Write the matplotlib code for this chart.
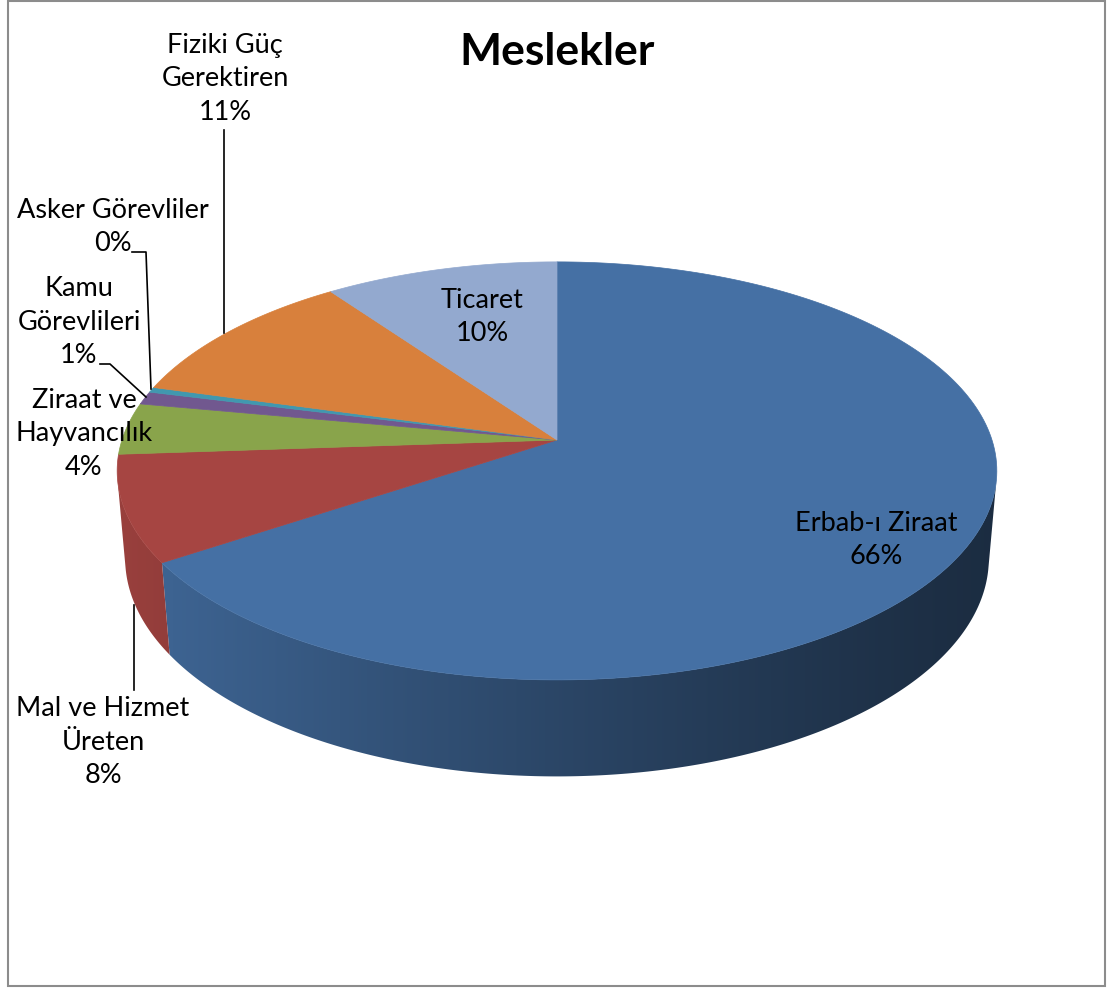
import numpy as np
import matplotlib
matplotlib.use("Agg")
import matplotlib.pyplot as plt
from matplotlib.patches import Polygon, Rectangle
from matplotlib.colors import to_rgb

plt.rcParams["font.family"] = ["Lato", "DejaVu Sans"]

# data
labels = ["Erbab-ı Ziraat", "Mal ve Hizmet\nÜreten", "Ziraat ve\nHayvancılık",
          "Kamu\nGörevlileri", "Asker Görevliler", "Fiziki Güç\nGerektiren", "Ticaret"]
values = [65.7, 8.2, 4.0, 1.0, 0.4, 10.8, 9.9]
colors = ["#4570a4", "#a64542", "#89a44b", "#71588f", "#4198af", "#d8803c", "#93a9cf"]

# label layout (pixel centres) and leader lines
label_pos = [(876, 540), (103, 742), (84, 434), (79, 322), (113, 227), (225, 79), (482, 317)]
leaders = [None,
           [(134, 605), (134, 690)],
           None,
           [(100, 364), (110, 364), (146, 397)],
           [(132, 252), (146, 252), (151, 389)],
           [(224, 130), (224, 333)],
           None]

# projection of the 3d disc
cx, cy, S = 557, 440, 435
elev = np.arcsin(0.47)
D = 5.97
h = 0.23


def project(t, z):
    X, Y = np.cos(t), np.sin(t)
    yv = Y * np.sin(elev) + z * np.cos(elev)
    d = Y * np.cos(elev) - z * np.sin(elev)
    f = D / (D + d)
    return cx + S * X * f, cy - S * yv * f


fig = plt.figure(figsize=(11.12, 9.9), dpi=100)
ax = fig.add_axes([0, 0, 1, 1])
ax.set_xlim(0, 1112)
ax.set_ylim(990, 0)
ax.axis("off")

total = sum(values)
bounds = np.deg2rad(90 - np.concatenate([[0], np.cumsum(values)]) / total * 360)

# side walls: gradient image clipped to each visible wall
vis_lim = -1 / (D * np.cos(elev))
gx = np.linspace(cx - S - 10, cx + S + 10, 600)
u = np.clip((gx - (cx - S)) / (2 * S), 0, 1)
shade = 0.40 + 0.52 * (1 - u) ** 1.2
for i, c in enumerate(colors):
    ts = np.linspace(bounds[i], bounds[i + 1], 400)
    ts = ts[np.sin(ts) < vis_lim]
    if len(ts) < 2:
        continue
    xt, yt = project(ts, 0)
    xb, yb = project(ts, -h)
    pts = list(zip(xt, yt)) + list(zip(xb[::-1], yb[::-1]))
    wall = Polygon(pts, closed=True, facecolor="none", edgecolor="none")
    ax.add_patch(wall)
    img = np.array(to_rgb(c))[None, None, :] * shade[None, :, None]
    im = ax.imshow(img, extent=(gx[0], gx[-1], 800, 400), aspect="auto",
                   interpolation="bilinear", zorder=1)
    im.set_clip_path(wall)

ax.set_xlim(0, 1112)
ax.set_ylim(990, 0)

# top face
for i, c in enumerate(colors):
    ts = np.linspace(bounds[i], bounds[i + 1], 200)
    xs, ys = project(ts, 0)
    pts = [(cx, cy)] + list(zip(xs, ys))
    ax.add_patch(Polygon(pts, closed=True, facecolor=c, edgecolor=c,
                         linewidth=0.5, zorder=2))

# labels
for i, lab in enumerate(labels):
    pct = "%d%%" % round(values[i] / total * 100)
    x, y = label_pos[i]
    ax.text(x, y, lab + "\n" + pct, ha="center", va="center", fontsize=19.5,
            linespacing=1.42, color="black", zorder=4)
    if leaders[i] is not None:
        lx, ly = zip(*leaders[i])
        ax.plot(lx, ly, color="black", lw=1.2, zorder=3)

ax.text(557, 52, "Meslekler", ha="center", va="center", fontsize=32,
        fontweight="bold", zorder=4)

ax.add_patch(Rectangle((8, 1), 1097, 985, fill=False, edgecolor="#8c8c8c",
                       linewidth=1.5, zorder=5))

fig.savefig("out.png", dpi=100)
